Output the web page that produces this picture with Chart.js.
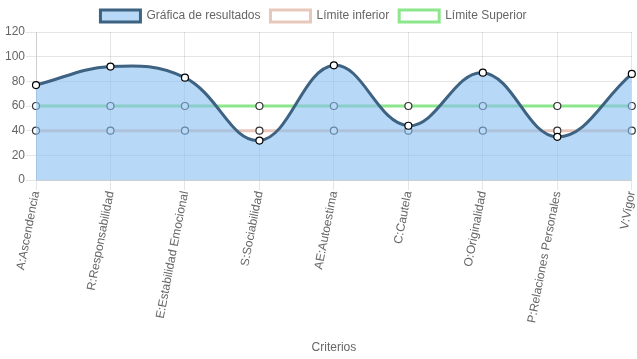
<!DOCTYPE html>
<html><head><meta charset="utf-8">
<script src="https://cdn.jsdelivr.net/npm/chart.js@4/dist/chart.umd.min.js"></script>
<style>html,body{margin:0;padding:0;background:#fff}#wrap{width:637px;height:359px}</style>
</head><body><div id="wrap"><canvas id="c"></canvas></div>
<script>
const categories = ["A:Ascendencia","R:Responsabilidad","E:Estabilidad Emocional","S:Sociabilidad","AE:Autoestima","C:Cautela","O:Originalidad","P:Relaciones Personales","V:Vigor"];
const resultados = [77, 92, 83, 32, 93, 44, 87, 35, 86];
const limiteInferior = [40, 40, 40, 40, 40, 40, 40, 40, 40];
const limiteSuperior = [60, 60, 60, 60, 60, 60, 60, 60, 60];
const yTicks = [0, 20, 40, 60, 80, 100, 120];

const legendShift = {
  id: 'legendShift',
  afterLayout(chart) { if (chart.legend) { chart.legend.left -= 5; chart.legend.right -= 5; } }
};

new Chart(document.getElementById('c'), {
  type: 'line',
  data: {
    labels: categories,
    datasets: [
      { label: 'Gráfica de resultados', data: resultados, fill: 'origin',
        backgroundColor: 'rgba(135,190,240,0.6)', borderColor: 'rgb(62,98,130)', borderWidth: 3,
        tension: 0.4, pointRadius: 3.5, pointBorderWidth: 1.2,
        pointBackgroundColor: '#fff', pointBorderColor: '#000' },
      { label: 'Límite inferior', data: limiteInferior, fill: false,
        backgroundColor: '#fff', borderColor: 'rgb(232,200,188)', borderWidth: 3,
        pointRadius: 3.5, pointBorderWidth: 1.2, pointBackgroundColor: '#fff', pointBorderColor: '#333' },
      { label: 'Límite Superior', data: limiteSuperior, fill: false,
        backgroundColor: '#fff', borderColor: 'rgb(140,230,140)', borderWidth: 3,
        pointRadius: 3.5, pointBorderWidth: 1.2, pointBackgroundColor: '#fff', pointBorderColor: '#333' }
    ]
  },
  plugins: [legendShift],
  options: {
    responsive: true, maintainAspectRatio: false, devicePixelRatio: 1, animation: false,
    plugins: {
      legend: { labels: { color: '#666', font: { size: 12, family: 'Arial' }, boxWidth: 40 } },
      tooltip: { enabled: false }
    },
    scales: {
      x: { grid: { color: 'rgba(0,0,0,0.1)', tickLength: 10 },
           ticks: { color: '#666', font: { size: 12, family: 'Arial' }, maxRotation: 79, minRotation: 79, padding: 0 },
           title: { display: true, text: 'Criterios', color: '#666', font: { size: 12, family: 'Arial' } },
           afterFit: s => { s.height = 179; s.paddingRight = 2; s.paddingLeft = 0; } },
      y: { min: 0, max: 120, afterBuildTicks: s => { s.ticks = yTicks.map(v => ({ value: v })); },
           grid: { color: 'rgba(0,0,0,0.1)', tickLength: 10 },
           ticks: { color: '#666', font: { size: 12, family: 'Arial' }, padding: 1 },
           afterFit: s => { s.width = 36; } }
    }
  }
});
</script></body></html>
